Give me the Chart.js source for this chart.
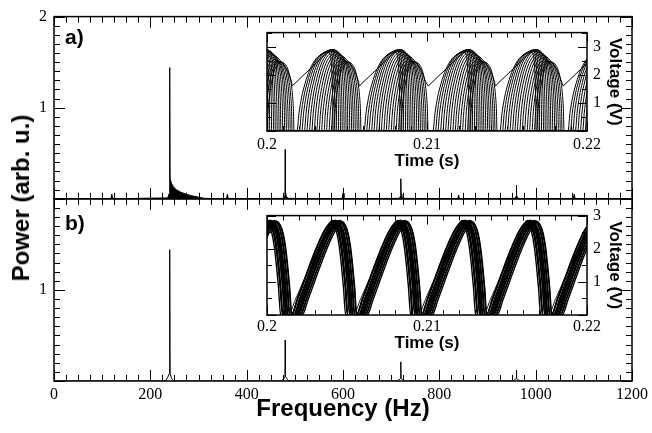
<!DOCTYPE html>
<html>
<head>
<meta charset="utf-8">
<script src="https://cdn.jsdelivr.net/npm/chart.js@4.4.1/dist/chart.umd.min.js"></script>
<style>
  html, body { margin: 0; padding: 0; background: #fff; }
  #wrap { position: relative; width: 652px; height: 433px; overflow: hidden; background: #fff; }
  canvas { position: absolute; }
  .lbl { position: absolute; font-family: "Liberation Sans", Arial, sans-serif; font-weight: bold; color: #000; white-space: nowrap; }
</style>
</head>
<body>
<div id="wrap">
  <canvas id="main" width="652" height="433" style="left:0;top:0;"></canvas>
  <canvas id="insetA" width="380" height="160" style="left:250px;top:17px;"></canvas>
  <canvas id="insetB" width="380" height="161" style="left:250px;top:200px;"></canvas>
  <div class="lbl" style="left:21px;top:198px;font-size:24px;line-height:24px;transform:translate(-50%,-50%) rotate(-90deg);">Power (arb. u.)</div>
  <div class="lbl" style="left:65px;top:26px;font-size:21px;line-height:21px;">a)</div>
  <div class="lbl" style="left:65px;top:212px;font-size:21px;line-height:21px;">b)</div>
</div>
<script>
// ---------------- DATA ----------------
// Power spectra (frequency in Hz, power in arb. u.)
const freqA  = [0, 118, 120, 122, 236, 239.4, 240, 240.5, 241, 244, 248, 254, 262, 272, 284, 298, 312, 358, 360, 362, 477, 479.5, 480, 480.6, 482, 486, 598, 600, 602, 717, 719.5, 720, 720.6, 722, 726, 838, 840, 842, 957, 959.5, 960, 960.6, 962, 966, 1078, 1080, 1082, 1200];
const powerA = [0, 0, 0.05, 0, 0.01, 0.06, 1.44, 1.27, 0.22, 0.17, 0.13, 0.10, 0.075, 0.055, 0.035, 0.02, 0.005, 0, 0.05, 0, 0.005, 0.04, 0.54, 0.08, 0.03, 0.005, 0, 0.06, 0, 0.005, 0.03, 0.22, 0.05, 0.02, 0.005, 0, 0.04, 0, 0.005, 0.03, 0.15, 0.04, 0.015, 0, 0, 0.05, 0, 0];
const freqB  = [0, 232, 236, 239.4, 240, 240.5, 241, 244, 248, 472, 476, 479.5, 480, 480.6, 484, 488, 712, 716, 719.5, 720, 720.6, 724, 728, 952, 956, 959.5, 960, 960.6, 964, 968, 1200];
const powerB = [0, 0, 0.04, 0.08, 1.44, 1.27, 0.08, 0.03, 0, 0, 0.02, 0.05, 0.45, 0.05, 0.02, 0, 0, 0.01, 0.03, 0.21, 0.03, 0.01, 0, 0, 0.01, 0.03, 0.12, 0.03, 0.01, 0, 0];

// Axis tick labels
const freqTicks = [0, 200, 400, 600, 800, 1000, 1200];
const timeTicks = [0.2, 0.21, 0.22];

// Inset a): peak times of each cycle (s), and bundle traces
const peaksA   = [0.199688, 0.203875, 0.208063, 0.212375, 0.216563, 0.220813];
const shiftA   = [0, 0.08, 0.16, 0.24, 0.32, 0.40, 0.48, 0.56, 0.64, 0.72, 0.80, 0.88, 0.96, 1.04, 1.12, 1.20];   // ms
const riseA    = [2.0, 1.93, 1.86, 1.78, 1.71, 1.63, 1.56, 1.49, 1.41, 1.34, 1.27, 1.19, 1.12, 1.04, 0.97, 0.90]; // ms
const fallA    = [0.25, 0.29, 0.32, 0.36, 0.40, 0.43, 0.47, 0.51, 0.54, 0.58, 0.62, 0.65, 0.69, 0.73, 0.76, 0.80]; // ms
const ampA     = [2.80, 2.85, 2.88, 2.90, 2.90, 2.88, 2.85, 2.80, 2.75, 2.70, 2.62, 2.55, 2.50, 2.48, 2.46, 2.45]; // V
const riseShapeA = [[0,0],[0.06,0.22],[0.14,0.42],[0.25,0.6],[0.4,0.78],[0.6,0.92],[0.8,0.98],[1,1]];
const fallShapeA = [[0,1],[0.3,0.97],[0.55,0.88],[0.75,0.72],[0.88,0.52],[0.96,0.28],[1,0]];
// stray straight-jump trace of inset a) (ms from cycle peak, V)
const glitchA  = [[-2.3,1.6],[0,2.85],[0.5,2.8],[1.0,2.6],[1.3,2.4],[1.6,2.15],[1.85,1.75]];

// Inset b): peak times of each cycle (s), and bundle traces
const peaksB   = [0.200313, 0.204375, 0.208438, 0.212500, 0.216563, 0.220625];
const shiftB   = [-0.36, -0.30, -0.25, -0.20, -0.15, -0.10, -0.05, 0, 0.05, 0.10, 0.16, 0.22, 0.28, 0.34, 0];
const riseB    = [2.50, 2.55, 2.60, 2.50, 2.58, 2.52, 2.60, 2.55, 2.50, 2.60, 2.55, 2.50, 2.58, 2.52, 3.05];
const fallB    = [0.90, 0.95, 0.92, 0.88, 0.95, 0.90, 0.93, 0.90, 0.95, 0.88, 0.92, 0.90, 0.94, 0.90, 0.95];
const ampB     = [2.78, 2.82, 2.85, 2.80, 2.83, 2.86, 2.80, 2.84, 2.82, 2.78, 2.85, 2.80, 2.83, 2.79, 2.80];
const riseShapeB = [[0,0],[0.15,0.17],[0.3,0.35],[0.45,0.53],[0.6,0.7],[0.75,0.85],[0.88,0.95],[1,1]];
const fallShapeB = [[0,1],[0.2,0.97],[0.4,0.88],[0.55,0.75],[0.7,0.55],[0.85,0.3],[1,0]];

// ---------------- helpers ----------------
const SERIF = "'Liberation Serif', 'Times New Roman', serif";
const SANS  = "'Liberation Sans', Arial, sans-serif";

function pairs(xs, ys) { return xs.map((x, i) => ({ x: x, y: ys[i] })); }

function buildTraces(peaks, shifts, rises, falls, amps, riseShape, fallShape) {
  return shifts.map((s, i) => {
    const pts = [];
    peaks.forEach(P => {
      const pk = P + s / 1000;
      riseShape.forEach(([u, f]) => pts.push({ x: pk - rises[i] / 1000 * (1 - u), y: amps[i] * f }));
      fallShape.forEach(([u, f]) => { if (u > 0) pts.push({ x: pk + falls[i] / 1000 * u, y: amps[i] * f }); });
    });
    return pts;
  });
}

const frameTicks = {
  id: 'frameTicks',
  beforeDraw(chart, args, o) {
    if (!o.fill) return;
    const a = chart.chartArea, ctx = chart.ctx;
    ctx.save(); ctx.fillStyle = o.fill;
    ctx.fillRect(a.left, a.top, a.right - a.left, a.bottom - a.top);
    ctx.restore();
  },
  afterDraw(chart, args, o) {
    const ctx = chart.ctx, xs = chart.scales[o.x];
    ctx.save();
    ctx.strokeStyle = '#000';
    const isMajor = (v, m) => Math.abs(v / m - Math.round(v / m)) < 1e-6;
    o.ys.forEach(id => {
      const ys = chart.scales[id];
      const L = xs.left, R = xs.right, T = ys.top, B = ys.bottom;
      ctx.lineWidth = o.tickWidth;
      ctx.beginPath();
      const nx = Math.round((xs.max - xs.min) / o.xMinor);
      for (let i = 0; i <= nx; i++) {
        const v = xs.min + i * o.xMinor;
        const len = isMajor(v, o.xMajor) ? o.majorLen : o.minorLen;
        const p = Math.round(xs.getPixelForValue(v)) + 0.5;
        ctx.moveTo(p, B); ctx.lineTo(p, B - len);
        ctx.moveTo(p, T); ctx.lineTo(p, T + len);
      }
      const ny = Math.round((ys.max - ys.min) / o.yMinor);
      for (let i = 0; i <= ny; i++) {
        const v = ys.min + i * o.yMinor;
        const len = isMajor(v, o.yMajor) ? o.majorLen : o.minorLen;
        const p = Math.round(ys.getPixelForValue(v)) + 0.5;
        ctx.moveTo(L, p); ctx.lineTo(L + len, p);
        ctx.moveTo(R, p); ctx.lineTo(R - len, p);
      }
      ctx.stroke();
      ctx.lineWidth = o.frameWidth;
      ctx.strokeRect(L, T, R - L, B - T);
    });
    ctx.restore();
  }
};

// ---------------- main chart ----------------
const tickFont = { family: SERIF, size: 16 };
const noGrid = { display: false, drawTicks: false, tickLength: 0 };
new Chart(document.getElementById('main'), {
  type: 'scatter',
  data: {
    datasets: [
      { data: pairs(freqA, powerA), xAxisID: 'x', yAxisID: 'ya', showLine: true, borderColor: '#000', backgroundColor: '#000',
        fill: 'origin', borderWidth: 1, pointRadius: 0, tension: 0 },
      { data: pairs(freqB, powerB), xAxisID: 'x', yAxisID: 'yb', showLine: true, borderColor: '#000',
        fill: false, borderWidth: 1, pointRadius: 0, tension: 0 }
    ]
  },
  options: {
    responsive: false, animation: false, devicePixelRatio: 1, events: [],
    layout: { padding: { left: 0, top: 15, right: 17, bottom: 0 } },
    plugins: {
      legend: { display: false }, tooltip: { enabled: false },
      frameTicks: { x: 'x', ys: ['ya', 'yb'], xMinor: 25, xMajor: 200, yMinor: 0.1, yMajor: 1,
                    minorLen: 6, majorLen: 11, tickWidth: 1, frameWidth: 1.5 }
    },
    scales: {
      x: {
        type: 'linear', position: 'bottom', min: 0, max: 1200,
        grid: noGrid, border: { display: false },
        afterBuildTicks: s => { s.ticks = freqTicks.map(v => ({ value: v })); },
        ticks: { font: tickFont, color: '#000', padding: 4, maxRotation: 0, autoSkip: false, callback: v => String(v) },
        title: { display: true, text: 'Frequency (Hz)', color: '#000', font: { family: SANS, size: 24, weight: 'bold' },
                 padding: { top: 0, bottom: 9 } },
        afterFit: s => { s.height = 52; }
      },
      yb: {
        type: 'linear', position: 'left', stack: 'panels', stackWeight: 1, min: 0, max: 2,
        grid: noGrid, border: { display: false },
        ticks: { stepSize: 1, autoSkip: false, font: tickFont, color: '#000', padding: 7, callback: v => (v === 1 ? '1' : '') },
        afterFit: s => { s.width = 54; }
      },
      ya: {
        type: 'linear', position: 'left', stack: 'panels', stackWeight: 1, min: 0, max: 2,
        grid: noGrid, border: { display: false },
        ticks: { stepSize: 1, autoSkip: false, font: tickFont, color: '#000', padding: 7, callback: v => (v === 0 ? '' : String(v)) },
        afterFit: s => { s.width = 54; }
      }
    }
  },
  plugins: [frameTicks]
});

// ---------------- insets ----------------
function insetChart(id, datasets, ymax, labelPad, titlePad) {
  return new Chart(document.getElementById(id), {
    type: 'scatter',
    data: { datasets: datasets },
    options: {
      responsive: false, animation: false, devicePixelRatio: 1, events: [],
      layout: { padding: { left: 17, top: 10, right: 0, bottom: 0 } },
      plugins: {
        legend: { display: false }, tooltip: { enabled: false },
        frameTicks: { x: 'x', ys: ['y'], xMinor: 0.001, xMajor: 0.01, yMinor: 0.5, yMajor: 1,
                      minorLen: 5, majorLen: 9, tickWidth: 1, frameWidth: 1.5, fill: '#fff' }
      },
      scales: {
        x: {
          type: 'linear', min: 0.2, max: 0.22,
          grid: noGrid, border: { display: false },
          afterBuildTicks: s => { s.ticks = timeTicks.map(v => ({ value: v })); },
          ticks: { font: tickFont, color: '#000', padding: labelPad, maxRotation: 0, autoSkip: false,
                   callback: v => String(+(+v).toFixed(3)) },
          title: { display: true, text: 'Time (s)', color: '#000', font: { family: SANS, size: 17, weight: 'bold' },
                   padding: { top: 0, bottom: titlePad } },
          afterFit: s => { s.height = 46; }
        },
        y: {
          type: 'linear', position: 'right', min: 0, max: ymax,
          grid: noGrid, border: { display: false },
          afterBuildTicks: s => { s.ticks = [1, 2, 3].map(v => ({ value: v })); },
          ticks: { autoSkip: false, font: tickFont, color: '#000', padding: 6, callback: v => String(v) },
          title: { display: true, text: 'Voltage (V)', color: '#000', font: { family: SANS, size: 17, weight: 'bold' },
                   padding: { top: 5, bottom: 0 } },
          afterFit: s => { s.width = 43; }
        }
      }
    },
    plugins: [frameTicks]
  });
}

const lineDs = (pts, w, mono) => ({ data: pts, showLine: true, borderColor: '#000', borderWidth: w, pointRadius: 0,
  fill: false, tension: mono ? 0.4 : 0, cubicInterpolationMode: mono ? 'monotone' : 'default' });

const tracesA = buildTraces(peaksA, shiftA, riseA, fallA, ampA, riseShapeA, fallShapeA);
const glitchPts = [];
peaksA.forEach(P => glitchA.forEach(([ms, v]) => glitchPts.push({ x: P + ms / 1000, y: v })));
insetChart('insetA', tracesA.map(t => lineDs(t, 1, true)).concat([lineDs(glitchPts, 1, false)]), 3.5, 4, 5);

const tracesB = buildTraces(peaksB, shiftB, riseB, fallB, ampB, riseShapeB, fallShapeB);
insetChart('insetB', tracesB.map((t, i) => lineDs(t, i === tracesB.length - 1 ? 0.9 : 1.4, true)), 3, 2, 7);
</script>
</body>
</html>
